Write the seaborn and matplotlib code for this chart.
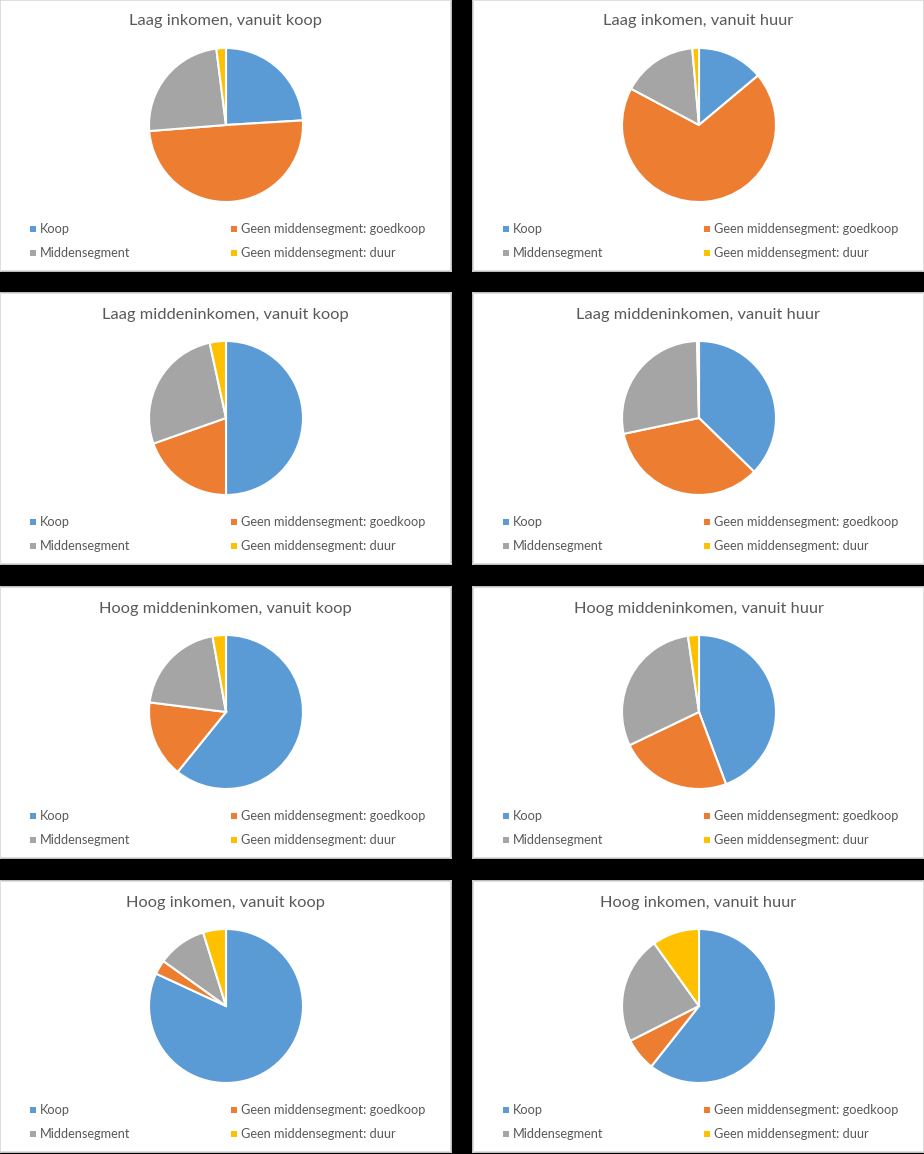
import matplotlib
matplotlib.use("Agg")
import matplotlib.pyplot as plt
import seaborn as sns

# data (percentages)
categories = ["Koop", "Geen middensegment: goedkoop", "Middensegment", "Geen middensegment: duur"]
titles = ["Laag inkomen, vanuit koop", "Laag inkomen, vanuit huur",
          "Laag middeninkomen, vanuit koop", "Laag middeninkomen, vanuit huur",
          "Hoog middeninkomen, vanuit koop", "Hoog middeninkomen, vanuit huur",
          "Hoog inkomen, vanuit koop", "Hoog inkomen, vanuit huur"]
koop = [24.0, 13.9, 50.0, 37.3, 60.8, 44.3, 81.9, 60.7]
goedkoop = [49.6, 68.9, 19.6, 34.4, 16.2, 23.6, 3.0, 6.9]
midden = [24.2, 15.8, 27.0, 27.9, 20.2, 29.8, 10.3, 22.6]
duur = [2.0, 1.4, 3.4, 0.4, 2.8, 2.3, 4.8, 9.9]

sns.set_theme(style="white")
plt.rcParams['font.family'] = ['Lato', 'DejaVu Sans']
colors = sns.color_palette(["#5B9BD5", "#ED7D31", "#A5A5A5", "#FFC000"])
txt_col = "#595959"

W, H = 924, 1154
fig = plt.figure(figsize=(W / 100, H / 100), dpi=100, facecolor="black")

panel_x = [0, 473]
panel_y = [0, 293, 587, 881]
pw, ph = 451, 271
r = 77
cx, cy = 226, 125


def frac(x, y, w, h):
    return [x / W, 1 - (y + h) / H, w / W, h / H]


for i, title in enumerate(titles):
    px = panel_x[i % 2]
    py = panel_y[i // 2]
    ax = fig.add_axes(frac(px, py, pw, ph))
    ax.set_facecolor("white")
    ax.set_xlim(0, pw)
    ax.set_ylim(ph, 0)
    ax.set_xticks([])
    ax.set_yticks([])
    for s in ax.spines.values():
        s.set_color("#D9D9D9")
    ax.text(pw / 2, 21.5, title, ha="center", va="center", fontsize=11.8, color=txt_col)

    # legend, two rows of two
    leg_pos = [(33, 229), (234, 229), (33, 253), (234, 253)]
    for (lx, ly), lab, c in zip(leg_pos, categories, colors):
        ax.scatter([lx], [ly], marker="s", s=22, color=c, linewidths=0)
        ax.text(lx + 7, ly, lab, ha="left", va="center", fontsize=9.2, color=txt_col)

    pad = 3
    pax = fig.add_axes(frac(px + cx - r - pad, py + cy - r - pad, 2 * (r + pad), 2 * (r + pad)))
    vals = [koop[i], goedkoop[i], midden[i], duur[i]]
    pax.pie(vals, colors=colors, startangle=90, counterclock=False, radius=1,
            wedgeprops=dict(edgecolor="white", linewidth=1.5))
    lim = (r + pad) / r
    pax.set_xlim(-lim, lim)
    pax.set_ylim(-lim, lim)
    pax.set_aspect("equal")
    pax.axis("off")

fig.savefig("out.png", dpi=100, facecolor="black")
